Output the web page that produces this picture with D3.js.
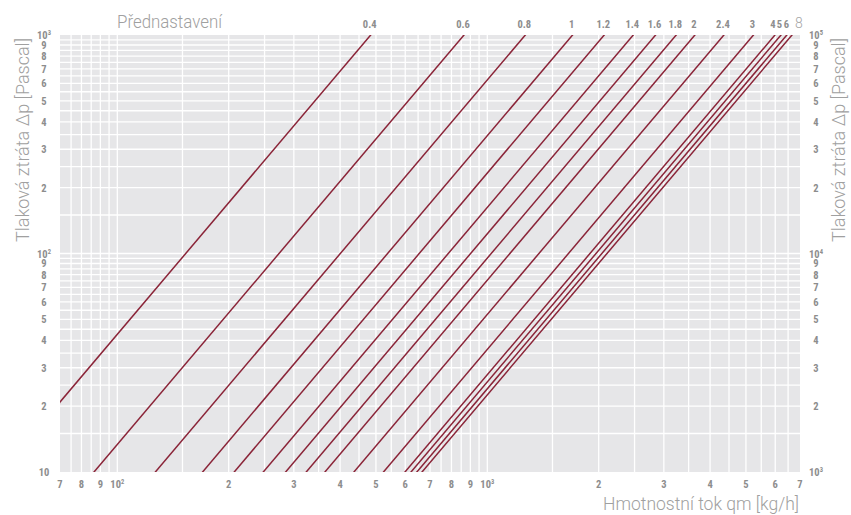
<!DOCTYPE html>
<html>
<head>
<meta charset="utf-8">
<script src="https://cdn.jsdelivr.net/npm/d3@7"></script>
<style>
  html, body { margin: 0; padding: 0; background: #ffffff; }
  svg { display: block; }
</style>
</head>
<body>
<svg id="chart" width="851" height="515"></svg>
<script>
// ---- data ----
const presetLabels = ["0.4","0.6","0.8","1","1.2","1.4","1.6","1.8","2","2.4","3","4","5","6","8"];
// flow coefficient per preset (m3/h at 1 bar)
const presetKv = [4.84, 8.65, 12.67, 17.0, 20.7, 24.8, 28.5, 32.4, 36.4, 43.6, 52.4, 59.9, 62.2, 64.5, 66.6];

const xDomain = [70, 7000];          // kg/h
const yDomain = [10, 1000];          // Pa
const xTickValues = [70,80,90,100,200,300,400,500,600,700,800,900,1000,2000,3000,4000,5000,6000,7000];
const xTickLabels = ["7","8","9","10|2","2","3","4","5","6","7","8","9","10|3","2","3","4","5","6","7"];
const yTickValues = [10,20,30,40,50,60,70,80,90,100,200,300,400,500,600,700,800,900,1000];
const yTickLabelsLeft = ["10","2","3","4","5","6","7","8","9","10|2","2","3","4","5","6","7","8","9","10|3"];
const yTickLabelsRight = ["10|3","2","3","4","5","6","7","8","9","10|4","2","3","4","5","6","7","8","9","10|5"];
const gridSteps = [1,1.5,2,2.5,3,3.5,4,4.5,5,5.5,6,6.5,7,7.5,8,8.5,9,9.5];
const decades = [10, 100, 1000];

const titleTop = "Přednastavení";
const titleY = "Tlaková ztráta Δp [Pascal]";
const titleX = "Hmotnostní tok qm [kg/h]";

// ---- layout ----
const L = 60, R = 800, T = 35, B = 472;
const svg = d3.select("#chart");
const x = d3.scaleLog().domain(xDomain).range([L, R]);
const y = d3.scaleLog().domain(yDomain).range([B, T]);

const tickFont = "'Liberation Sans Narrow','Roboto Condensed','Liberation Sans',Arial,sans-serif";
const titleFont = "'Roboto','Open Sans',sans-serif";
const tickColor = "#8d8d8d";
const titleColor = "#a0a0a0";

// background
svg.append("rect").attr("x", L).attr("y", T).attr("width", R - L).attr("height", B - T)
  .attr("fill", "#e6e6e8");

// grid
const gridVals = [];
decades.forEach(d => gridSteps.forEach(k => gridVals.push(d * k)));
const xGrid = gridVals.filter(v => v > xDomain[0] && v < xDomain[1]);
const yGrid = gridVals.filter(v => v > yDomain[0] && v < yDomain[1]);

const g = svg.append("g");
g.selectAll("line.gx").data(xGrid).enter().append("line")
  .attr("x1", d => x(d)).attr("x2", d => x(d)).attr("y1", T).attr("y2", B)
  .attr("stroke", "#ffffff").attr("stroke-width", 1.3);
g.selectAll("line.gy").data(yGrid).enter().append("line")
  .attr("y1", d => y(d)).attr("y2", d => y(d)).attr("x1", L).attr("x2", R)
  .attr("stroke", "#ffffff").attr("stroke-width", 1.3);

// clip
svg.append("clipPath").attr("id", "plotclip").append("rect")
  .attr("x", L).attr("y", T).attr("width", R - L).attr("height", B - T);

// preset lines: dp = 1e5 * (q / (1000*kv))^2
const dp = (q, kv) => 1e5 * Math.pow(q / (1000 * kv), 2);
const lineGen = d3.line().x(d => x(d[0])).y(d => y(d[1]));
const lg = svg.append("g").attr("clip-path", "url(#plotclip)");
presetKv.forEach(kv => {
  const q0 = 40, q1 = 8000;
  lg.append("path")
    .attr("d", lineGen([[q0, dp(q0, kv)], [q1, dp(q1, kv)]]))
    .attr("fill", "none").attr("stroke", "#8a2438").attr("stroke-width", 1.5);
});

// labels with optional superscript "base|exp"
function addLabel(sel, label, supSize) {
  const parts = label.split("|");
  sel.text(parts[0]);
  if (parts.length > 1) {
    sel.append("tspan").attr("font-size", supSize).attr("dy", -4).text(parts[1]);
  }
}

const tickSize = 10.5;

// x tick labels
xTickValues.forEach((v, i) => {
  const t = svg.append("text").attr("x", x(v)).attr("y", 488)
    .attr("text-anchor", "middle").attr("font-family", tickFont).attr("font-weight", "bold")
    .attr("font-size", tickSize).attr("fill", tickColor);
  addLabel(t, xTickLabels[i], 6.5);
});

// y tick labels left
yTickValues.forEach((v, i) => {
  const t = svg.append("text").attr("x", 44).attr("y", y(v) + 4)
    .attr("text-anchor", "middle").attr("font-family", tickFont).attr("font-weight", "bold")
    .attr("font-size", tickSize).attr("fill", tickColor);
  addLabel(t, yTickLabelsLeft[i], 6.5);
});

// y tick labels right
yTickValues.forEach((v, i) => {
  const t = svg.append("text").attr("x", 816).attr("y", y(v) + 4)
    .attr("text-anchor", "middle").attr("font-family", tickFont).attr("font-weight", "bold")
    .attr("font-size", tickSize).attr("fill", tickColor);
  addLabel(t, yTickLabelsRight[i], 6.5);
});

// preset labels at the top of each line (last cluster spread slightly for legibility)
const clusterShift = {"4": -2, "5": -1.5, "6": -0.5, "8": 7};
presetKv.forEach((kv, i) => {
  const qTop = 1000 * kv * Math.sqrt(yDomain[1] / 1e5);
  const lab = presetLabels[i];
  const last = lab === "8";
  const shift = clusterShift[lab] !== undefined ? clusterShift[lab] : -1;
  svg.append("text").attr("x", x(qTop) + shift).attr("y", 28)
    .attr("text-anchor", "middle")
    .attr("font-family", last ? titleFont : tickFont)
    .attr("font-weight", last ? "300" : "bold")
    .attr("font-size", last ? 14 : tickSize)
    .attr("fill", last ? "#a5a5a5" : tickColor)
    .text(lab);
});

// titles
svg.append("text").attr("x", 117).attr("y", 28)
  .attr("font-family", titleFont).attr("font-weight", "300").attr("font-size", 18)
  .attr("fill", titleColor).attr("textLength", 105).attr("lengthAdjust", "spacingAndGlyphs")
  .text(titleTop);

svg.append("text").attr("x", 603).attr("y", 510)
  .attr("font-family", titleFont).attr("font-weight", "300").attr("font-size", 19)
  .attr("fill", titleColor).attr("textLength", 196).attr("lengthAdjust", "spacingAndGlyphs")
  .text(titleX);

svg.append("text").attr("transform", "translate(29,242) rotate(-90)")
  .attr("font-family", titleFont).attr("font-weight", "300").attr("font-size", 19)
  .attr("fill", titleColor).attr("textLength", 204).attr("lengthAdjust", "spacingAndGlyphs")
  .text(titleY);

svg.append("text").attr("transform", "translate(845,242) rotate(-90)")
  .attr("font-family", titleFont).attr("font-weight", "300").attr("font-size", 19)
  .attr("fill", titleColor).attr("textLength", 204).attr("lengthAdjust", "spacingAndGlyphs")
  .text(titleY);
</script>
</body>
</html>
